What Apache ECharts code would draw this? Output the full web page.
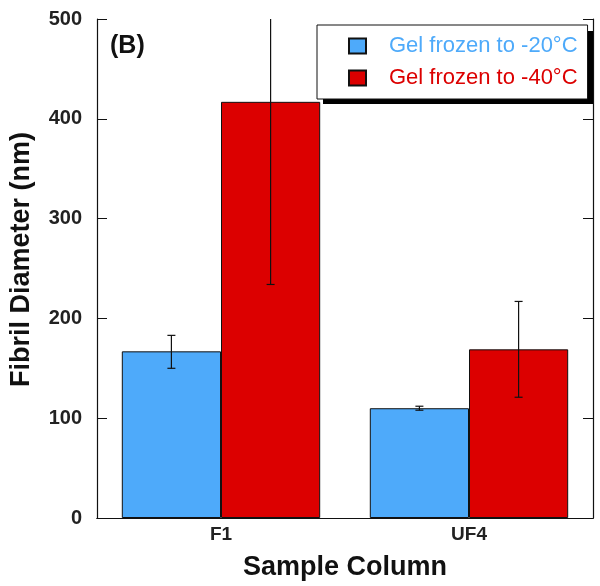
<!DOCTYPE html>
<html>
<head>
<meta charset="utf-8">
<script src="https://cdn.jsdelivr.net/npm/echarts@6/dist/echarts.min.js"></script>
<style>
  html, body { margin: 0; padding: 0; background: #fff; }
  #chart { width: 600px; height: 586px; }
</style>
</head>
<body>
<div id="chart"></div>
<script>
// Fibril diameter per sample column, two freezing temperatures, mean +/- error.
const categories = ["F1", "UF4"];
const seriesNames = ["Gel frozen to -20°C", "Gel frozen to -40°C"];
const cold20Mean = [167, 110];
const cold20Low = [150, 108];
const cold20High = [183, 112];
const cold40Mean = [417, 169];
const cold40Low = [234, 121];
const cold40High = [600, 217];
const yTicks = [0, 100, 200, 300, 400, 500];

const BLUE = "#4eaafa";
const RED = "#dc0000";
const FONT = "'Liberation Sans', Arial, Helvetica, sans-serif";

const chart = echarts.init(document.getElementById("chart"), null, { renderer: "canvas" });

// error bars drawn over the grouped bars; slot 0 = left bar, 1 = right bar
function errorSeries(lows, highs, slot) {
  return {
    type: "custom",
    clip: true,
    z: 10,
    silent: true,
    data: categories.map((c, i) => [i, lows[i], highs[i]]),
    renderItem(params, api) {
      const i = api.value(0);
      const band = api.size([1, 0])[0];
      const shift = (slot === 0 ? -0.2 : 0.2) * band;
      const lo = api.coord([i, api.value(1)]);
      const hi = api.coord([i, api.value(2)]);
      const x = lo[0] + shift;
      const cap = 4;
      const style = { stroke: "#111", lineWidth: 1.2 };
      return {
        type: "group",
        children: [
          { type: "line", shape: { x1: x, y1: lo[1], x2: x, y2: hi[1] }, style },
          { type: "line", shape: { x1: x - cap, y1: lo[1], x2: x + cap, y2: lo[1] }, style },
          { type: "line", shape: { x1: x - cap, y1: hi[1], x2: x + cap, y2: hi[1] }, style },
        ],
      };
    },
  };
}

const option = {
  animation: false,
  backgroundColor: "#fff",
  textStyle: { fontFamily: FONT },
  grid: { left: 95, right: 7, top: 19, bottom: 67 },
  legend: {
    orient: "vertical",
    left: 317,
    top: 25,
    z: 6,
    padding: [9, 10, 9, 31],
    itemWidth: 17,
    itemHeight: 15,
    itemGap: 8,
    icon: "rect",
    backgroundColor: "#fff",
    borderColor: "#111",
    borderWidth: 1,
    textStyle: { fontSize: 22, lineHeight: 24, padding: [0, 0, 0, 18], fontFamily: FONT },
    data: [
      { name: seriesNames[0], textStyle: { color: BLUE } },
      { name: seriesNames[1], textStyle: { color: RED } },
    ],
  },
  graphic: [
    {
      // hard drop shadow behind the legend box
      type: "rect",
      z: 5,
      shape: { x: 323, y: 31, width: 270, height: 73 },
      style: { fill: "#000" },
    },
    {
      type: "text",
      left: 110,
      top: 34,
      z: 6,
      style: { text: "(B)", fontSize: 25, fontWeight: "bold", fill: "#111", fontFamily: FONT },
    },
  ],
  xAxis: [
    {
      type: "category",
      data: categories,
      name: "Sample Column",
      nameLocation: "middle",
      nameGap: 36,
      nameTextStyle: { fontSize: 27, fontWeight: "bold", color: "#111" },
      axisLine: { lineStyle: { color: "#111", width: 1.2 } },
      axisTick: { inside: true, length: 10, lineStyle: { color: "#111" } },
      axisLabel: { fontSize: 19, fontWeight: "bold", color: "#222", margin: 7 },
    },
    {
      type: "category",
      data: categories,
      position: "top",
      axisLine: { lineStyle: { color: "#111", width: 1.2 } },
      axisTick: { inside: true, length: 10, lineStyle: { color: "#111" } },
      axisLabel: { show: false },
    },
  ],
  yAxis: [
    {
      type: "value",
      min: yTicks[0],
      max: yTicks[yTicks.length - 1],
      interval: 100,
      name: "Fibril Diameter (nm)",
      nameLocation: "middle",
      nameGap: 62,
      nameTextStyle: { fontSize: 27, fontWeight: "bold", color: "#111", padding: [0, 0, 0, 18] },
      axisLine: { show: true, lineStyle: { color: "#111", width: 1.2 } },
      axisTick: { show: true, inside: true, length: 10, lineStyle: { color: "#111" } },
      axisLabel: { fontSize: 20, fontWeight: "bold", color: "#222", margin: 15 },
      splitLine: { show: false },
    },
    {
      type: "value",
      min: yTicks[0],
      max: yTicks[yTicks.length - 1],
      interval: 100,
      position: "right",
      axisLine: { show: true, lineStyle: { color: "#111", width: 1.2 } },
      axisTick: { show: true, inside: true, length: 10, lineStyle: { color: "#111" } },
      axisLabel: { show: false },
      splitLine: { show: false },
    },
  ],
  series: [
    {
      name: seriesNames[0],
      type: "bar",
      data: cold20Mean,
      barGap: "0%",
      barCategoryGap: "20%",
      itemStyle: { color: BLUE, borderColor: "#111", borderWidth: 1 },
    },
    {
      name: seriesNames[1],
      type: "bar",
      data: cold40Mean,
      barGap: "0%",
      barCategoryGap: "20%",
      itemStyle: { color: RED, borderColor: "#111", borderWidth: 1 },
    },
    errorSeries(cold20Low, cold20High, 0),
    errorSeries(cold40Low, cold40High, 1),
  ],
};

chart.setOption(option);
</script>
</body>
</html>
